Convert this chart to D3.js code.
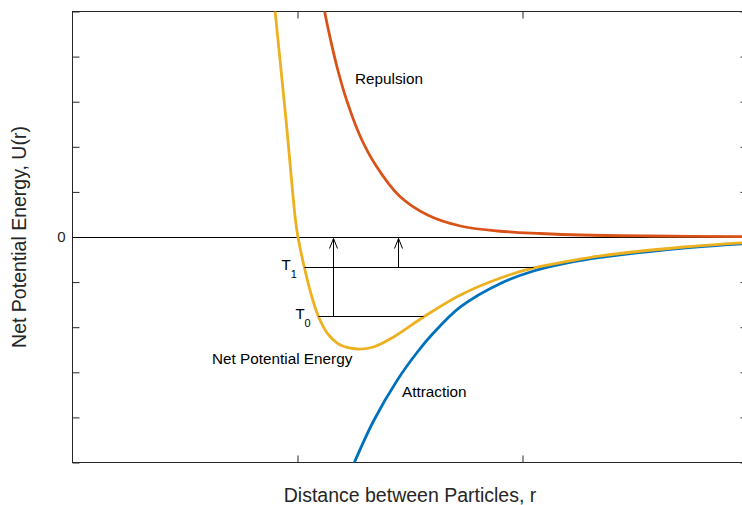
<!DOCTYPE html>
<html>
<head>
<meta charset="utf-8">
<script src="https://cdn.jsdelivr.net/npm/d3@7"></script>
<style>
  html, body { margin: 0; padding: 0; background: #fff; }
  svg { display: block; }
  text { font-family: "Liberation Sans", Arial, Helvetica, sans-serif; }
</style>
</head>
<body>
<svg id="chart" width="742" height="505"></svg>
<script>
// Separation distance r (axis units) and energies U(r) for each curve
const repulsionR = [1.107, 1.12, 1.147, 1.178, 1.218, 1.28, 1.347, 1.453, 1.578, 1.724, 1.889, 2.08, 2.258, 2.569, 3.0];
const repulsionU = [5.37, 5.01, 4.37, 3.725, 3.04, 2.217, 1.596, 0.909, 0.488, 0.244, 0.133, 0.078, 0.044, 0.022, 0.009];

const attractionR = [1.244, 1.338, 1.444, 1.533, 1.604, 1.724, 1.902, 2.049, 2.2, 2.347, 2.716, 3.0];
const attractionU = [-5.1, -4.08, -3.17, -2.55, -2.13, -1.55, -1.03, -0.754, -0.576, -0.454, -0.244, -0.144];

const netR = [0.893, 0.949, 0.991, 1.002, 1.031, 1.064, 1.093, 1.132, 1.191, 1.267, 1.338, 1.427, 1.56, 1.724, 1.902, 2.049, 2.2, 2.347, 2.716, 3.0];
const netU = [5.37, 2.594, 0.377, 0, -0.687, -1.33, -1.763, -2.129, -2.395, -2.483, -2.439, -2.217, -1.774, -1.286, -0.909, -0.687, -0.543, -0.421, -0.222, -0.122];

// Energy levels T0 and T1 (horizontal segments across the well)
const levelNames = ["0", "1"];
const levelU = [-1.763, -0.687];
const levelStartR = [1.093, 1.031];
const levelEndR = [1.56, 2.049];
// Arrows lifting each level up to U = 0
const arrowR = [1.16, 1.449];

// Axis ticks
const xTicks = [1, 2];
const yTicks = [-5, -4, -3, -2, -1, 0, 1, 2, 3, 4, 5];

(function () {
  const svg = d3.select("#chart");
  const mL = 72.5, mR = 747.5, mT = 11.5, mB = 462.5;

  const x = d3.scaleLinear().domain([0, 3]).range([mL, mR]);
  const y = d3.scaleLinear().domain([-5, 5]).range([mB, mT]);
  // pixel-aligned position for thin horizontal rules
  const crisp = v => Math.round(v - 0.5) + 0.5;

  const axisColor = "#262626";

  // Clip for curves
  svg.append("defs").append("clipPath").attr("id", "plotClip")
    .append("rect").attr("x", mL).attr("y", mT)
    .attr("width", mR - mL).attr("height", mB - mT);

  // Axes with inward ticks on all four sides
  function styleAxis(g) {
    g.select(".domain").remove();
    g.selectAll(".tick line").attr("stroke", axisColor).attr("stroke-width", 1);
    g.selectAll(".tick text").attr("fill", axisColor)
      .style("font-family", "'Liberation Sans', Arial, sans-serif").style("font-size", "15px");
  }
  svg.append("g").attr("transform", `translate(${mL},0)`)
    .call(d3.axisLeft(y).tickValues(yTicks).tickSize(-7).tickPadding(7)
      .tickFormat(d => d === 0 ? "0" : ""))
    .call(styleAxis);
  svg.append("g").attr("transform", `translate(${mR},0)`)
    .call(d3.axisRight(y).tickValues(yTicks).tickSize(-7).tickFormat(""))
    .call(styleAxis);
  svg.append("g").attr("transform", `translate(0,${mB})`)
    .call(d3.axisBottom(x).tickValues(xTicks).tickSize(-7).tickFormat(""))
    .call(styleAxis);
  svg.append("g").attr("transform", `translate(0,${mT})`)
    .call(d3.axisTop(x).tickValues(xTicks).tickSize(-7).tickFormat(""))
    .call(styleAxis);

  // Box outline
  svg.append("rect")
    .attr("x", mL).attr("y", mT)
    .attr("width", mR - mL).attr("height", mB - mT)
    .attr("fill", "none").attr("stroke", axisColor).attr("stroke-width", 1);

  // Zero-energy reference line
  const y0 = crisp(y(0));
  svg.append("line")
    .attr("x1", x(0)).attr("x2", mR)
    .attr("y1", y0).attr("y2", y0)
    .attr("stroke", "#000").attr("stroke-width", 1);

  const line = d3.line().x(d => x(d[0])).y(d => y(d[1])).curve(d3.curveCatmullRom.alpha(0.5));
  const curves = svg.append("g").attr("clip-path", "url(#plotClip)");

  function drawCurve(rs, us, color) {
    curves.append("path")
      .datum(rs.map((r, i) => [r, us[i]]))
      .attr("d", line)
      .attr("fill", "none")
      .attr("stroke", color)
      .attr("stroke-width", 2.8)
      .attr("stroke-linejoin", "round");
  }
  drawCurve(attractionR, attractionU, "#0072BD");
  drawCurve(repulsionR, repulsionU, "#D95319");
  drawCurve(netR, netU, "#EDB120");

  // Energy levels
  levelU.forEach((u, i) => {
    const ly = crisp(y(u));
    svg.append("line")
      .attr("x1", x(levelStartR[i])).attr("x2", x(levelEndR[i]))
      .attr("y1", ly).attr("y2", ly)
      .attr("stroke", "#000").attr("stroke-width", 1);
    const t = svg.append("text")
      .attr("x", x(levelStartR[i]) - 23).attr("y", ly + 2)
      .attr("fill", "#000").style("font-size", "15px");
    t.append("tspan").text("T");
    t.append("tspan").attr("dy", 8).style("font-size", "11px").text(levelNames[i]);
  });

  // Arrows from each level up to zero
  arrowR.forEach((r, i) => {
    const ax = x(r);
    const tip = y0 + 1;
    svg.append("line")
      .attr("x1", ax).attr("x2", ax)
      .attr("y1", crisp(y(levelU[i]))).attr("y2", tip)
      .attr("stroke", "#000").attr("stroke-width", 1);
    svg.append("path")
      .attr("d", `M${ax - 4},${tip + 10}L${ax},${tip}L${ax + 4},${tip + 10}`)
      .attr("fill", "none").attr("stroke", "#000").attr("stroke-width", 1);
  });

  // Curve labels
  const labels = [
    { text: "Repulsion", x: 355, y: 84 },
    { text: "Net Potential Energy", x: 212, y: 364 },
    { text: "Attraction", x: 402, y: 397 }
  ];
  svg.selectAll("text.curveLabel").data(labels).enter().append("text")
    .attr("class", "curveLabel")
    .attr("x", d => d.x).attr("y", d => d.y)
    .attr("fill", "#000").style("font-size", "15.3px")
    .text(d => d.text);

  // Axis titles
  svg.append("text")
    .attr("x", (mL + mR) / 2).attr("y", 502)
    .attr("text-anchor", "middle").attr("fill", axisColor)
    .style("font-size", "19.5px")
    .text("Distance between Particles, r");
  svg.append("text")
    .attr("transform", `translate(26,${(mT + mB) / 2}) rotate(-90)`)
    .attr("text-anchor", "middle").attr("fill", axisColor)
    .style("font-size", "19.5px")
    .text("Net Potential Energy, U(r)");
})();
</script>
</body>
</html>
